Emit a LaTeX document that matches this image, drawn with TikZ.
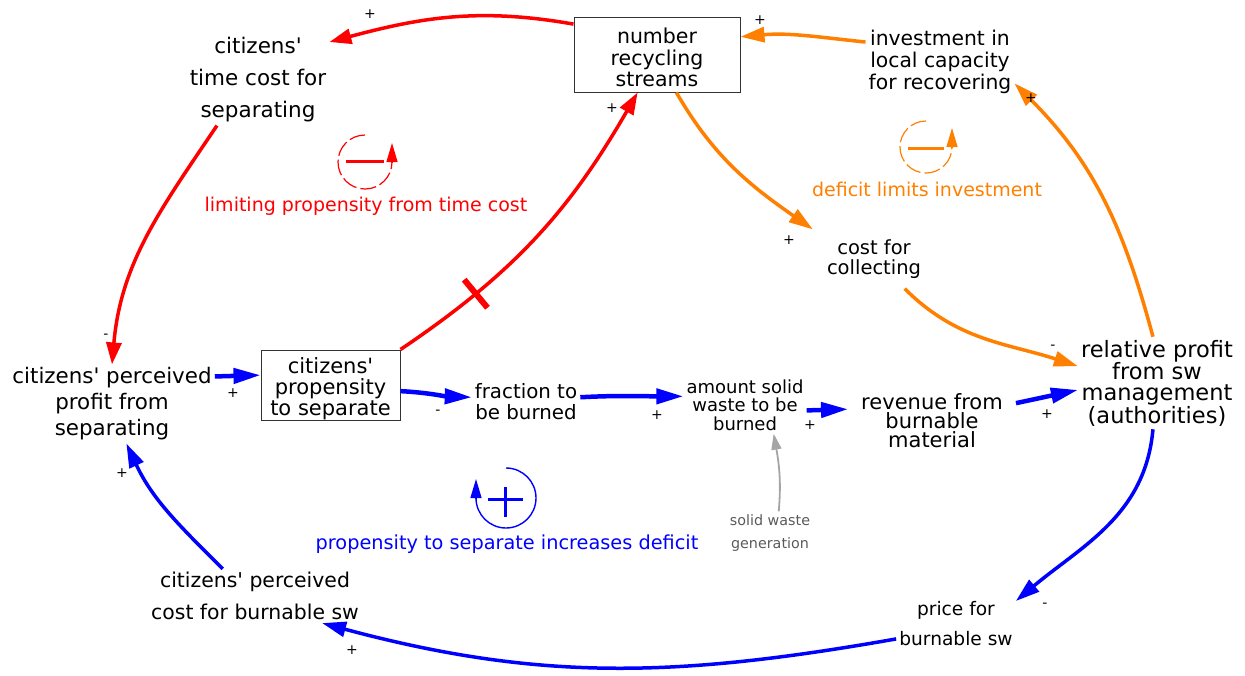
\documentclass[tikz,border=0pt]{standalone}
\usepackage{fontspec}
\setmainfont{DejaVu Sans}
\usetikzlibrary{arrows.meta}
\definecolor{cred}{RGB}{255,0,0}
\definecolor{corange}{RGB}{255,128,0}
\definecolor{cblue}{RGB}{0,0,255}
\definecolor{cgrayarr}{RGB}{165,165,165}
\definecolor{cgraytxt}{RGB}{90,90,90}
\newcommand\fsz[2]{\fontsize{#1}{#2}\selectfont}
\newcommand\apo{\textquotesingle}
\begin{document}
\begin{tikzpicture}[x=1pt,y=1pt,
  lbl/.style={align=center,inner sep=3pt},
  boxnode/.style={draw=black!80,line width=1pt,align=center,inner sep=0pt},
  pol/.style={inner sep=0pt,font=\fsz{14}{14}},
  redarr/.style={draw=cred,line width=3.5pt,-{Triangle[length=22pt,width=15pt]}},
  orgarr/.style={draw=corange,line width=3.5pt,-{Triangle[length=24pt,width=15pt]}},
  bluearr/.style={draw=cblue,line width=4.5pt,-{Triangle[length=27pt,width=15pt]}},
  bluearrb/.style={draw=cblue,line width=3.5pt,-{Triangle[length=24pt,width=15pt]}},
  grayarr/.style={draw=cgrayarr,line width=1.8pt,-{Triangle[length=16pt,width=10pt]}},
  looplbl/.style={inner sep=0pt,font=\fsz{19}{20}}
]
\useasboundingbox (0,0) rectangle (1245,-675);

% variable nodes
\node[boxnode,minimum width=166pt,minimum height=75pt,font=\fsz{20.5}{21.5}] (numrec) at (657,-54.5) {\rule{0pt}{21.5pt}number\\recycling\\streams};
\node[lbl,font=\fsz{21.5}{32}] (timecost) at (258,-80) {citizens\apo\\time cost for\\separating};
\node[lbl,font=\fsz{20.3}{22}] (invest) at (940,-62) {investment in\\local capacity\\for recovering};
\node[lbl,font=\fsz{19.5}{20},inner xsep=14pt,inner ysep=10pt] (costcoll) at (874,-259) {cost for\\collecting};
\node[lbl,font=\fsz{22.5}{20.5}] (relprofit) at (1157,-383) {relative profit\\from sw\\management\\(authorities)};
\node[lbl,font=\fsz{21.4}{26}] (pprofit) at (112,-404) {citizens\apo{} perceived\\profit from\\separating};
\node[boxnode,minimum width=139pt,minimum height=70pt,font=\fsz{21}{21}] (prop) at (330.5,-385) {\rule{0pt}{23.5pt}citizens\apo\\propensity\\to separate};
\node[lbl,font=\fsz{19.8}{21}] (fraction) at (526,-402) {fraction to\\be burned};
\node[lbl,font=\fsz{18}{18.5}] (amount) at (745,-405) {amount solid\\waste to be\\burned};
\node[lbl,font=\fsz{21}{19},inner xsep=13pt] (revenue) at (932,-421) {revenue from\\burnable\\material};
\node[lbl,font=\fsz{20.4}{32}] (pcost) at (255,-596) {citizens\apo{} perceived\\cost for burnable sw};
\node[lbl,font=\fsz{18.6}{30}] (price) at (956,-624) {price for\\burnable sw};
\node[lbl,font=\fsz{14.3}{23},text=cgraytxt] (swgen) at (770,-533) {solid waste\\generation};

% red loop
\draw[redarr] (numrec.160) to[out=170,in=15] (timecost.28);
\draw[redarr] (timecost.228) to[out=236,in=85] (pprofit.north);
\draw[redarr] (prop.north east) to[out=34,in=240]
  node[pos=0.25,sloped,minimum height=33pt,minimum width=0pt,inner sep=0pt] (hash) {} (numrec.243);
\draw[cred,line width=6pt] (hash.north) -- (hash.south);

% orange loop
\draw[orgarr] (invest.165) to[out=174,in=5] (numrec.12);
\draw[orgarr] (numrec.297) to[out=-60,in=145] (costcoll.north west);
\draw[orgarr] (costcoll.-44) to[out=-45,in=162] (relprofit.168);
\draw[orgarr] (relprofit.95) to[out=105,in=-45] (invest.-16);

% blue loop
\draw[bluearr] (pprofit.15) -- (prop.172);
\draw[bluearr] (prop.-5) to[out=-3,in=178] (fraction.175);
\draw[bluearr] (fraction.5) to[out=3,in=180] (amount.172);
\draw[bluearr] (amount.-5) -- (revenue.172);
\draw[bluearr] (revenue.12) -- (relprofit.185);
\draw[bluearrb] (relprofit.-95) to[out=-95,in=40] (price.21);
\draw[bluearrb] (price.194) to[out=190,in=-15] (pcost.-22);
\draw[bluearrb] (pcost.140) to[out=135,in=-65] (pprofit.-70);

% exogenous
\draw[grayarr] (swgen.68) to[out=85,in=-80] (amount.-45);

% polarities
\node[pol] (p1) at (370,-14) {+};
\node[pol] (p2) at (106,-336) {-};
\node[pol] (p3) at (612,-108) {+};
\node[pol] (p4) at (760,-20) {+};
\node[pol] (p5) at (789,-240) {+};
\node[pol] (p6) at (1053,-347) {-};
\node[pol] (p7) at (1031,-98) {+};
\node[pol] (p8) at (233,-393) {+};
\node[pol] (p9) at (438,-412) {-};
\node[pol] (p10) at (657,-415) {+};
\node[pol] (p11) at (810,-425) {+};
\node[pol] (p12) at (1047,-414) {+};
\node[pol] (p13) at (1045,-605) {-};
\node[pol] (p14) at (352,-650) {+};
\node[pol] (p15) at (122,-473) {+};

% loop symbols
\coordinate (rloop) at (365,-162);
\draw[cred,line width=1.2pt,dash pattern=on 16pt off 4pt] (rloop) ++(90:27) arc[start angle=90,end angle=360,radius=27];
\draw[cred,line width=1.2pt,-{Triangle[length=19pt,width=11pt]}] (rloop) ++(27,0) -- ++(0,19);
\draw[cred,line width=3pt] (rloop) ++(-19,1) -- ++(38,0);
\node[looplbl,text=cred] (rlbl) at (366,-206) {limiting propensity from time cost};

\coordinate (oloop) at (926,-147);
\draw[corange,line width=1.2pt,dash pattern=on 16pt off 4pt] (oloop) ++(90:26) arc[start angle=90,end angle=360,radius=26];
\draw[corange,line width=1.2pt,-{Triangle[length=19pt,width=11pt]}] (oloop) ++(26,0) -- ++(0,19);
\draw[corange,line width=3pt] (oloop) ++(-18,-1) -- ++(36,0);
\node[looplbl,text=corange] (olbl) at (927,-189) {deficit limits investment};

\coordinate (bloop) at (506,-498);
\draw[cblue,line width=1.4pt] (bloop) ++(90:30) arc[start angle=90,end angle=-180,radius=30];
\draw[cblue,line width=1.4pt,-{Triangle[length=19pt,width=11pt]}] (bloop) ++(-30,0) -- ++(0,19);
\draw[cblue,line width=3pt] (bloop) ++(-18,-1) -- ++(35,0);
\draw[cblue,line width=3pt] (bloop) ++(-1,11) -- ++(0,-30);
\node[looplbl,text=cblue,font=\fsz{19.3}{20}] (blbl) at (507,-544) {propensity to separate increases deficit};
\end{tikzpicture}
\end{document}
